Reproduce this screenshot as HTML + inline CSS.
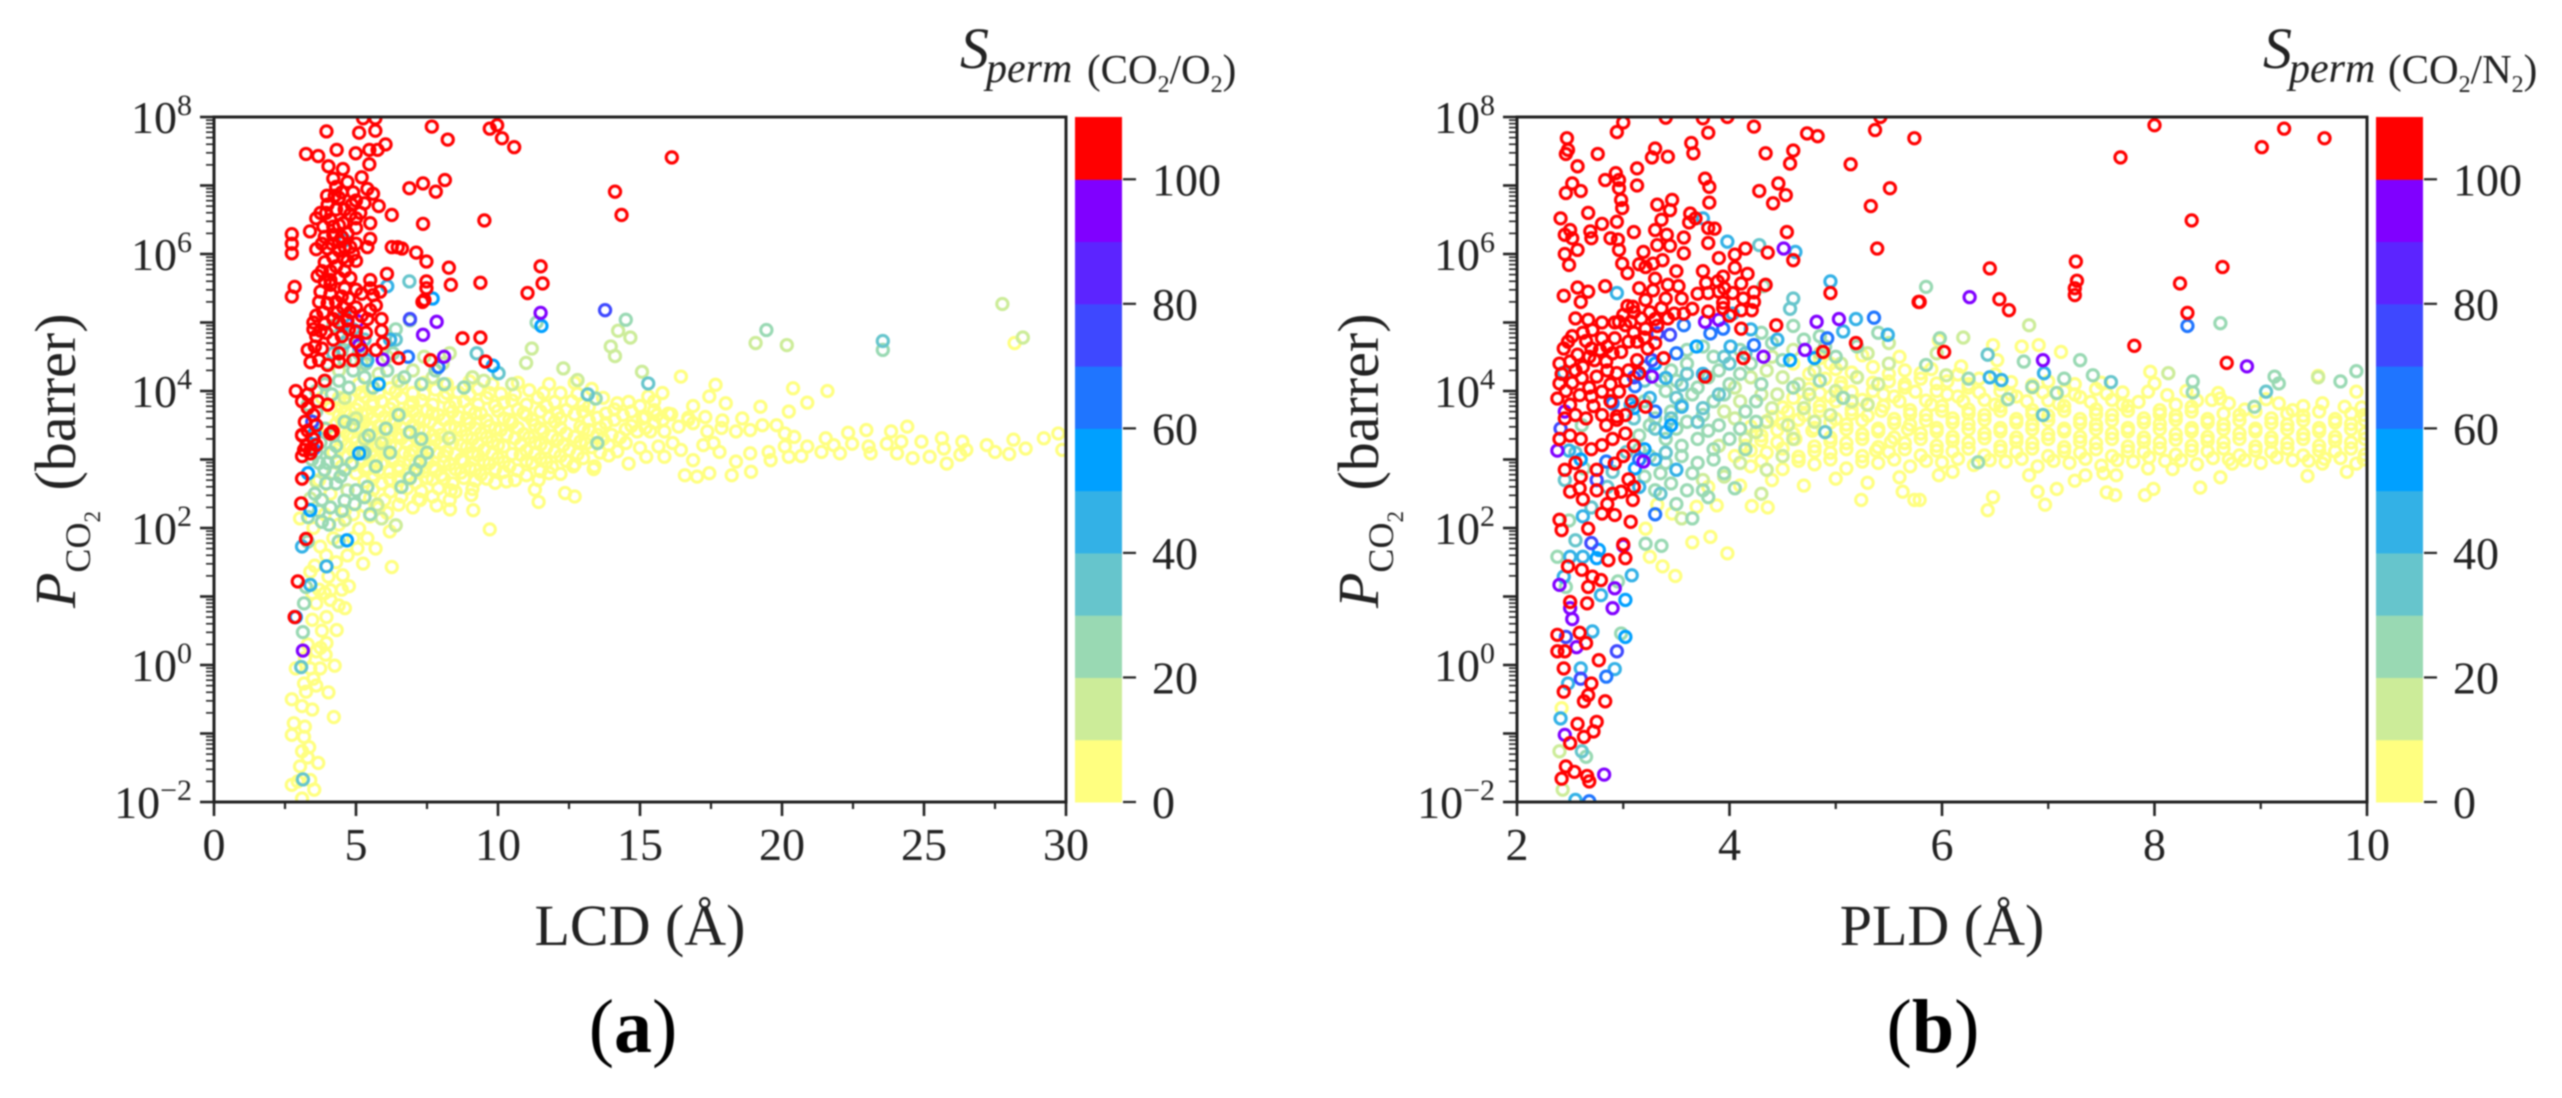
<!DOCTYPE html>
<html lang="en">
<head>
<meta charset="utf-8">
<title>CO2 permeability vs LCD and PLD</title>
<style>
html,body{margin:0;padding:0;background:#fff;}
svg{display:block;filter:blur(0.7px);}
text{font-family:"Liberation Serif",serif;fill:#222;}
</style>
</head>
<body>
<svg id="figure" xmlns="http://www.w3.org/2000/svg" width="2562" height="1098" viewBox="0 0 2562 1098">
<defs>
<clipPath id="clip-a"><rect x="214" y="117" width="852" height="685"/></clipPath>
<clipPath id="clip-b"><rect x="1517" y="117" width="850" height="685"/></clipPath>
</defs>
<rect x="0" y="0" width="2562" height="1098" fill="#fff"/>
<g id="panel-a"></g>
<g id="panel-b"></g>

<text transform="translate(75,608) rotate(-90)" font-size="58"><tspan font-style="italic">P</tspan><tspan font-size="36" dy="15">CO</tspan><tspan font-size="23" dy="10">2</tspan><tspan dy="-25" dx="6"> (barrer)</tspan></text>
<text transform="translate(1378,608) rotate(-90)" font-size="58"><tspan font-style="italic">P</tspan><tspan font-size="36" dy="15">CO</tspan><tspan font-size="23" dy="10">2</tspan><tspan dy="-25" dx="6"> (barrer)</tspan></text>
<text x="640" y="945" font-size="58" text-anchor="middle">LCD (Å)</text>
<text x="1942" y="945" font-size="58" text-anchor="middle">PLD (Å)</text>

<g>
<text x="960" y="68" font-size="58" font-style="italic">S</text>
<text x="986" y="82" font-size="42" font-style="italic">perm</text>
<text x="1087" y="83" font-size="41">(CO<tspan font-size="24" dy="9">2</tspan><tspan dy="-9">/O</tspan><tspan font-size="24" dy="9">2</tspan><tspan dy="-9">)</tspan></text>
</g>
<g>
<text x="2263" y="68" font-size="58" font-style="italic">S</text>
<text x="2289" y="82" font-size="42" font-style="italic">perm</text>
<text x="2388" y="83" font-size="41">(CO<tspan font-size="24" dy="9">2</tspan><tspan dy="-9">/N</tspan><tspan font-size="24" dy="9">2</tspan><tspan dy="-9">)</tspan></text>
</g>

<text x="633" y="1052" font-size="76" text-anchor="middle" style="fill:#000">(<tspan font-weight="bold">a</tspan>)</text>
<text x="1933" y="1052" font-size="76" text-anchor="middle" style="fill:#000">(<tspan font-weight="bold">b</tspan>)</text>
</svg>

<script>
/* ---- shared axis values ---- */
const logTickExponents=[8,7,6,5,4,3,2,1,0,-1,-2];
const logTickLabels=[8,6,4,2,0,-2];
const colorbarTicks=[0,20,40,60,80,100];
const colorbarEdges=[0,10,20,30,40,50,60,70,80,90,100,110];
const colormap=["#ffff80","#ccec99","#99d9b3","#66c5cc","#33b1e6","#00a0ff","#1f75ff","#3e48ff","#5c24ff","#8000ff","#ff0000"];
const lcdTicks=[0,5,10,15,20,25,30];
const lcdMinorTicks=[2.5,7.5,12.5,17.5,22.5,27.5];
const pldTicks=[2,4,6,8,10];
const pldMinorTicks=[3,5,7,9];

/* ---- panel (a): [LCD in angstrom, log10 of P_CO2] by selectivity band ---- */
const lcdYellow=[[15.36,3.41],[15.86,3.41],[16.36,3.48],[16.87,3.53],[17.37,3.41],[17.87,3.46],[18.38,3.41],[18.88,3.43],[19.31,3.5],[19.81,3.5],[20.1,3.38],[20.43,3.33],[21.54,3.31],[22.33,3.39],[22.97,3.43],[23.84,3.41],[24.41,3.48],[24.91,3.26],[25.63,3.31],[26.35,3.26],[27.21,3.21],[28.15,3.29],[29.22,3.31],[29.73,3.38],
[16.58,2.77],[17.01,2.75],[17.44,2.8],[18.23,2.77],[18.91,2.82],[16.87,2.99],[18.38,2.97],[19.6,2.99],[20.24,3.04],[20.68,3.05],[21.39,3.11],[22.04,3.09],[23.12,3.09],[24.05,3.09],[24.6,3.02],[25.2,3.04],[25.8,2.94],[26.28,3.07],[27.5,3.11],[28,3.08],[28.58,3.16],[29.87,3.14],
[15.65,3.19],[16.15,3.24],[16.44,3.14],[17.23,3.21],[17.59,3.24],[17.8,3.11],[18.88,3.09],[19.53,3.11],[20.1,3.19],[20.89,3.19],[21.82,3.21],[22.47,3.23],[23.05,3.19],[23.69,3.23],[24.2,3.26],[25.7,3.16],[26.49,3.14],[15.22,3.04],[15.86,3.04],
[16.44,4.21],[17.66,4.09],[20.39,4.04],[21.6,4],[20.89,3.83],[20.24,3.7],[19.24,3.77],[15.79,3.97],[15.29,3.92],[17.44,3.92],[18.02,3.82],[16.87,3.78],[28.19,4.7],
[16.1,3.66],[16.7,3.58],[17.3,3.62],[17.9,3.57],[18.6,3.6],[15.5,3.72],[15.1,3.6],
[2.74,-1.75],[3.1,-1.95],[3.53,-1.82],[3.39,-1.68],[3.67,-1.43],[3.03,-1.48],[3.1,-1.26],[2.74,-1.02],[2.81,-0.85],[3.17,-1.05],[3.46,-0.65],[2.74,-0.5],[3.24,-0.39],[4.03,-0.4],[4.22,-0.76],[2.88,-0.05],[3.39,-0.05],[3.74,-0.05],[4.25,-0.01],[3.93,0.15],[3.17,-0.27],[3.96,0.32],[4.32,0.51],[4.61,0.83],[3.46,0.66],[3.96,0.7],[4.39,0.87],[3.46,1.05],[4.1,1.09],[4.53,1.31],[4.03,1.29],[3.39,1.36],[5.25,1.48],[3.74,1.73],[5.69,1.7],[6.19,1.95],[5.11,1.99],[3.03,2.14],[6.26,1.43],[9.71,1.98],[7.26,2.41],[7.84,2.33],[8.31,2.27],[9.13,2.26],[11.43,2.38],[12.36,2.51],[12.7,2.46],[10.6,2.7],[8.34,2.55],[9.06,2.48],[11.43,2.7],[13.37,2.86],[12.65,2.9],
[3.1,-0.6],[3.3,-1.35],[3.6,0.2],[3.8,0.5],[4.1,0.95],[4.3,1.5],[4.7,1.6],[3.7,1.1],[4.9,1.85],[4.4,2.05],[3.3,0.3],[3.6,-0.3],[3.2,-0.9],[2.95,-1.7],[3.35,-1.2],[3.5,-0.2],[3.75,0.25],[3.2,0.1],[3.6,0.9],[3.9,1.05],[3.55,1.45],[3.95,1.6],[4.5,1.1],[4.75,1.15],[5.05,1.7],[5.4,1.85],[4.2,1.85],[4.6,2.25],[3.5,2],[3.9,2.2],
[5.5,4],[6.2,4.04],[7,3.97],[7.8,4.02],[8.6,3.98],[9.3,4.03],[10.1,3.96],[11.1,4.01],[12.2,3.97],[13.3,4.03],
[4.8,3.88],[5.3,3.92],[5.9,3.85],[6.6,3.9],[7.3,3.86],[8.1,3.91],[8.8,3.85],[9.6,3.9],[10.5,3.86],[11.4,3.9],[12.6,3.85],[13.7,3.9],[14.6,3.84],
[4.5,3.76],[5,3.73],[5.6,3.79],[6.2,3.74],[6.9,3.78],[7.5,3.72],[8.3,3.77],[9,3.73],[9.9,3.78],[10.7,3.73],[11.7,3.78],[12.4,3.72],[13.2,3.77],[14.1,3.73],[15,3.78],
[4.4,3.64],[4.9,3.61],[5.4,3.66],[6,3.62],[6.6,3.67],[7.2,3.6],[7.9,3.65],[8.6,3.62],[9.4,3.67],[10.2,3.6],[11,3.65],[11.8,3.61],[12.7,3.66],[13.5,3.61],[14.4,3.65],[15.2,3.62],[16,3.67],[16.7,3.61],
[4.3,3.52],[4.8,3.5],[5.3,3.55],[5.8,3.49],[6.4,3.54],[7,3.5],[7.6,3.55],[8.3,3.48],[9,3.53],[9.7,3.49],[10.5,3.54],[11.3,3.5],[12,3.55],[12.9,3.48],[13.8,3.53],[14.7,3.49],[15.5,3.54],
[4.2,3.4],[4.7,3.37],[5.2,3.42],[5.7,3.38],[6.2,3.43],[6.8,3.37],[7.4,3.41],[8,3.36],[8.7,3.42],[9.4,3.38],[10.1,3.43],[10.9,3.37],[11.6,3.41],[12.4,3.38],[13.2,3.43],[14,3.36],[14.9,3.41],
[4.5,3.28],[5,3.25],[5.5,3.3],[6,3.26],[6.6,3.31],[7.2,3.25],[7.8,3.29],[8.4,3.24],[9.1,3.3],[9.8,3.26],[10.6,3.31],[11.3,3.25],[12.1,3.29],[12.9,3.26],[13.7,3.3],[14.5,3.24],
[4.4,3.16],[4.9,3.13],[5.4,3.18],[5.9,3.14],[6.4,3.19],[7,3.13],[7.6,3.17],[8.2,3.12],[8.9,3.18],[9.5,3.14],[10.2,3.19],[11,3.13],[11.7,3.17],[12.5,3.14],[13.3,3.18],[14.2,3.12],[15,3.17],
[4.7,3.04],[5.2,3.01],[5.7,3.06],[6.3,3.02],[6.9,3.07],[7.5,3.01],[8.1,3.05],[8.7,3],[9.3,3.06],[10,3.02],[10.8,3.07],[11.5,3.01],[12.2,3.05],[13,3.02],[13.9,3.06],
[4.9,2.92],[5.4,2.89],[5.9,2.94],[6.5,2.9],[7.1,2.95],[7.7,2.89],[8.3,2.93],[9,2.88],[9.7,2.94],[10.4,2.9],[11.2,2.95],[11.9,2.89],[12.7,2.93],[13.4,2.9],[14.6,2.94],
[5,2.8],[5.6,2.77],[6.2,2.82],[6.8,2.78],[7.4,2.83],[8,2.77],[8.7,2.81],[9.4,2.78],[10.2,2.82],[11,2.77],[11.5,2.83],[12.2,2.79],
[5.3,2.68],[5.9,2.65],[6.5,2.7],[7.1,2.66],[7.7,2.71],[8.4,2.65],[9.2,2.69],[9.9,2.66],[11.3,2.56],
[5.6,2.56],[6.2,2.53],[6.8,2.58],[7.3,2.54],[7.9,2.58],[8.5,2.53],[9.1,2.57],
[5.5,2.44],[6,2.41],[6.6,2.46],[7.2,2.42],[7.7,2.46],[8.3,2.41],[5.3,2.32],[5.8,2.29],[6.5,2.34],[7,2.3],[4.9,2.2],[5.5,2.17],[6.1,2.22],
[3.7,2.7],[4.1,2.5],[4.5,2.9],[4.2,3.1],[4,3.45],[3.8,3.9],[4.4,3.9],[4.1,3.75],
[5.1,4.1],[5.8,4.12],[6.6,4.1],[7.4,4.12],[8.2,4.1],[9,4.14],[9.8,4.1],[10.7,4.12],[11.8,4.1],[12.7,4.12],[5.2,3.98],[5.8,3.97],[6.4,3.99],[7.4,3.96],[8.2,3.97],[9,3.95],[9.7,3.97],[10.6,3.95],[11.6,3.97],[12.8,3.96],
[4.6,3.83],[5.1,3.8],[5.6,3.84],[6.3,3.81],[7,3.83],[7.7,3.8],[8.5,3.83],[9.3,3.8],[10.2,3.83],[11,3.8],[12,3.84],[13,3.8],[14.2,3.82],[15.5,3.85],
[4.6,3.7],[5.2,3.67],[5.8,3.7],[6.4,3.68],[7,3.7],[7.7,3.67],[8.4,3.7],[9.2,3.68],[10,3.71],[10.9,3.68],[11.5,3.7],[12.1,3.67],[13,3.7],[13.8,3.67],[14.7,3.7],[15.6,3.65],
[4.5,3.58],[5.1,3.58],[5.6,3.6],[6.2,3.57],[6.8,3.6],[7.4,3.57],[8.1,3.58],[8.9,3.6],[9.6,3.57],[10.4,3.58],[11.2,3.58],[12.2,3.6],[13.2,3.57],[14.1,3.58],[15.8,3.58],
[4.5,3.45],[5,3.46],[5.5,3.47],[6,3.44],[6.6,3.46],[7.2,3.44],[7.9,3.46],[8.5,3.46],[9.2,3.45],[9.9,3.45],[10.7,3.46],[11.5,3.45],[12.2,3.46],[13,3.44],[13.6,3.46],[14.5,3.44],[15.2,3.46],
[4.9,3.32],[5.4,3.35],[5.9,3.32],[6.5,3.36],[7.1,3.32],[7.7,3.35],[8.3,3.32],[8.9,3.35],[9.6,3.32],[10.3,3.36],[11.1,3.32],[11.9,3.34],[12.7,3.33],[13.5,3.36],[14.3,3.32],
[4.7,3.21],[5.2,3.2],[5.7,3.22],[6.2,3.21],[6.8,3.23],[7.4,3.21],[8,3.23],[8.7,3.21],[9.3,3.22],[10,3.21],[10.8,3.22],[11.5,3.22],[12.3,3.21],[13.1,3.23],[13.9,3.21],
[5,3.08],[5.5,3.08],[6.1,3.08],[6.7,3.1],[7.3,3.08],[7.9,3.1],[8.5,3.08],[9.1,3.1],[9.8,3.08],[10.5,3.08],[11.3,3.08],[12,3.11],[12.8,3.08],[13.6,3.1],
[5.2,2.97],[5.7,2.98],[6.3,2.97],[6.9,2.98],[7.5,2.96],[8.1,2.97],[8.8,2.97],[9.5,2.98],[10.2,2.96],[11,2.98],[11.7,2.96],[12.4,2.98],
[5.3,2.86],[5.8,2.84],[6.5,2.84],[7.2,2.86],[7.8,2.84],[8.5,2.86],[9.2,2.85],[9.9,2.86],[10.7,2.84],[11.8,2.8],[5.6,2.72],[6.2,2.71],[6.9,2.72],[7.5,2.73],[8.1,2.72],[8.8,2.73],[9.6,2.72],[10.3,2.68]];

const lcdLime=[[15.07,4.28],[19.07,4.7],[20.17,4.67],[27.76,5.27],[28.48,4.78],[12.3,4.33],[12.8,4.16],[14.23,4.88],[14.66,4.78],[13.97,4.65],[14.12,4.51],[11.19,4.62],[10.99,4.41],[9.5,4.15],[10.5,4.1],[8.3,4.55],[8.05,4.4],[7,4.3],[5.8,4.25],[6.5,4.15],[9.1,4.2],[3.6,2.68],[3.39,2.43],[6.4,2.04],[5.75,2.34],[5.9,2.14],[4.61,2.12],[8.27,3.31],[5.9,3.24],[5.2,4.4],[4.4,4.3],[6.1,4.5],[7.4,4.5],[7.7,4.2],[4.6,3.9],[5,3.6],[5.3,3.3],[4.2,2.8],[4.7,2.55]];

const lcdGreen=[[19.45,4.89],[23.55,4.6],[11.36,5],[14.5,5.04],[13.44,3.89],[6.9,5.03],[6.4,4.9],[4.2,4.95],[4.5,4.6],[4,4.4],[3.9,4.1],[4.4,4.15],[4.9,4.3],[4.6,4.45],[5.3,4.2],[5.6,4.05],[6.1,4.3],[6.7,4.2],[7.3,4.1],[7.8,4.3],[8.1,4.1],[8.8,4.05],[3.6,3.7],[3.9,3.45],[4.3,3.2],[4,2.95],[4.6,2.85],[4.2,3.35],[4.9,3.5],[5.3,3.1],[5.7,2.9],[6.2,3.1],[6.6,2.6],[7.1,2.85],[7.5,3.1],[7.3,3.3],[6.9,3.4],[3.89,2.85],[3.8,2.41],[3.31,2.16],[3.8,2.09],[4.39,1.8],[4.32,2.97],[3.24,1.14],[3.13,0.48],[3.17,0.9],[5.25,3.09],[7.26,2.97],[6.9,2.73],[13.5,3.24],[4.1,2.3],[4.6,2.4],[5,2.55],[5.4,2.6],[4.3,2.65],[3.6,3.1],[3.5,3.35],[3.3,3.8],[4.7,4.75],[5.1,4.55],[3.3,1.8],[3.7,2.25],[4.05,2.05],[4.5,2.25],[4.95,2.35],[5.3,2.45],[3.55,2.5],[3.95,2.65],[4.45,2.75],[4.85,2.95],[5.45,3.35],[6.05,3.45],[6.5,3.65],[3.7,2.95],[4.1,3.1],[3.45,3],[3.75,3.25],[4.6,3.55],[3.6,4],[4.15,3.95],[4.75,4.05],[5.35,4.4],[6.3,4.55],[5.5,2.2]];

const lcdTeal=[[23.55,4.73],[6.88,5.6],[9.25,4.55],[10.02,4.26],[13.16,3.95],[15.29,4.11],[3.07,-0.03],[3.13,-1.67],[4.6,4.7],[5.3,4.75],[6.4,4.75],[4.2,4.55],[5.1,4.65],[4.9,4.9]];

const lcdCyan=[[6.1,5.53],[4.6,6.2],[4.6,5.1],[4.5,4.95],[3.1,1.73],[3.96,1.44],[3.39,1.17],[5.4,4.45],[6.2,4.75]];

const lcdSky=[[3.31,2.8],[2.88,0.7],[4.68,1.82],[5.11,3.09],[9.82,4.37],[7.7,5.35],[11.53,4.95],[3.53,3.38],[5.8,4.1],[3.39,2.26]];

const lcdBlue=[[6.83,4.5],[3.5,3.15],[7.9,4.35]];

const lcdIndigo=[[13.77,5.18],[6.9,5.05],[3.46,3.55]];

const lcdPurple=[[11.5,5.14],[7.84,5.01],[5.11,4.67],[5.94,4.46],[7.36,4.82],[3.13,0.21],[5.05,5.02],[8.1,4.5]];

const lcdRed=[[3.96,7.79],[7.67,7.86],[8.23,7.67],[9.71,7.83],[9.97,7.88],[10.14,7.69],[10.57,7.56],[5.11,7.77],[5.68,7.8],[6.04,7.6],[3.24,7.46],[3.67,7.43],[4.32,7.52],[4.99,7.47],[5.47,7.52],[5.76,7.52],[4.03,7.28],[4.54,7.24],[5.47,7.31],[5.25,7.98],[5.68,7.98],[6.88,6.96],[7.36,7.03],[7.81,6.91],[8.13,7.08],[14.12,6.91],[14.35,6.57],[6.26,6.57],[7.36,6.44],[9.52,6.49],[2.74,6.29],[2.74,6.01],[2.74,6.15],[3.38,6.33],[6.47,6.1],[6.62,6.08],[6.26,6.1],[7.12,6.02],[7.48,5.89],[8.27,5.8],[8.34,5.55],[9.38,5.58],[11.04,5.43],[11.5,5.82],[11.57,5.57],[2.74,5.38],[2.84,5.52],[6.09,5.71],[7.48,5.6],[7.48,5.5],[7.41,5.33],[7.34,5.3],[8.75,4.77],[9.38,4.78],[7.62,4.45],[9.56,4.43],[2.88,4],[16.12,7.41],
[4.2,7.1],[4.7,7.05],[5.2,7.12],[4.3,6.98],[4.9,6.9],[5.4,6.95],[5.6,6.88],[3.98,6.85],[4.4,6.82],[5,6.78],[5.3,6.74],[5.8,6.7],[4,6.72],[3.75,6.6],[4.3,6.65],[4.8,6.58],[5,6.52],[5.5,6.45],[3.6,6.52],[4.1,6.5],[4.4,6.42],[3.85,6.4],[5,6.38],[4.7,6.3],[5.5,6.22],[3.9,6.25],[4.2,6.28],[4.4,6.18],[5,6.15],[5.4,6.1],[3.6,6.07],[4,6.08],[4.4,6.05],[4.9,6],[5,5.9],[3.9,5.88],[4.3,5.82],[4.6,5.75],[3.65,5.68],[4.1,5.62],[5.5,5.62],[5.5,5.5],[4.1,5.55],[4.6,5.5],[5,5.48],[5.85,5.45],[3.75,5.45],[4.1,5.42],[4.5,5.38],[5.2,5.42],[5.6,5.4],[3.7,5.3],[4,5.28],[4.55,5.22],[5,5.22],[5.5,5.18],[3.6,5.1],[3.5,5],[3.9,4.98],[4.4,5],[4.7,5.03],[5.4,5.05],[5.9,5.05],[3.5,4.9],[3.95,4.85],[4.5,4.8],[5,4.87],[5.9,4.88],[3.6,4.8],[5,4.72],[5.95,4.7],[3.3,4.6],[3.8,4.62],[4.4,4.55],[5.7,4.6],[3.4,4.42],[4,4.38],[4.4,4.43],[4.9,4.45],[6.5,4.48],[3.9,4.15],[3.4,4.1],[3.1,3.85],[4,3.8],[3.3,3.75],[3.5,3.65],[3.2,3.55],[3.3,3.42],[3.1,3.35],[4.1,3.38],[3.5,3.3],[3.4,3.15],[3.1,3.05],[4.5,6.9],[4.6,6.65],[4.2,6.4],[4.6,6.1],[4.2,5.95],[4.7,5.9],[3.8,5.75],[4.3,5.3],[4.8,5.15],[4.2,5.05],
[2.84,0.7],[2.95,1.22],[3.24,1.84],[3.07,2.36],[3.1,2.72],[3.39,3.09],[3.17,3.14],[3.6,3.21],[3.1,3.36],[4.18,3.41],
[4.55,6.45],[4.85,6.72],[3.95,6.6],[4.25,6.85],[5.15,6.6],[4.5,6.25],[4.8,6.1],[4.15,6.15],[3.8,6.15],[4.55,5.95],[4.1,5.75],[4.4,5.65],[4.8,5.65],[3.9,5.6],[4.75,5.35],[4.35,5.15],[3.85,5.15],[5.2,5.1],[5.7,5.25],[3.75,4.88],[4.2,4.75],[4.75,4.9],[5.35,4.85],[3.55,4.65],[3.7,4.45],[5.2,4.6],[3.3,3.95],[3.65,3.85],[3.25,3.2],[3.6,3.5]];

const lcdSeries=[[5,lcdYellow],[15,lcdLime],[25,lcdGreen],[35,lcdTeal],[45,lcdCyan],[55,lcdSky],[65,lcdBlue],[75,lcdIndigo],[95,lcdPurple],[105,lcdRed]];

/* ---- panel (b): [PLD in angstrom, log10 of P_CO2] by selectivity band ---- */
const pldYellow=[[5.97,4.74],[6.48,4.67],[6.75,4.65],[6.91,4.67],[7.12,4.57],[6.52,4.45],[6.18,4.36],[7.96,4.28],[9.54,4.22],[8,4.11],[7.94,3.99],[8.12,3.94],[8.62,3.89],[8.54,3.87],[9.17,3.82],[9.58,3.82],[9.9,3.99],[9.79,3.77],
[6.43,2.26],[6.48,2.45],[6.97,2.34],[6.9,2.53],[7.08,2.57],[7.63,2.48],[7.55,2.52],[7.91,2.48],[7.99,2.57],[8.43,2.59],[8.62,2.74],[9.44,2.76],[9.81,2.82],[5.97,2.77],[6.82,2.77],[7.25,2.69],[7.35,2.77],[7.52,2.8],[7.64,2.77],[7.94,2.87],[8.17,2.86],[8.73,2.94],[9.58,2.94],[5.79,2.41],
[3.21,1.99],[3.25,1.58],[3.37,1.44],[3.49,1.3],[3.65,1.79],[3.82,1.87],[3.98,1.63],[4.21,2.32],[4.36,2.3],[5.24,2.41],[5.63,2.53],[5.74,2.41],[3.88,2.33],[3.69,2.31],[3.46,2.21],[3.32,2.34],[3.8,2.6],[2.42,-0.63],
[4.1,2.62],[4.4,2.7],[4.7,2.62],[5,2.72],[5.3,2.66],[5.6,2.74],[6.1,2.82],
[4.2,2.9],[4.5,2.86],[4.8,2.93],[5.1,2.87],[5.4,2.95],[5.7,2.9],[6,2.96],[6.3,2.92],[6.6,2.97],[6.9,2.9],[7.2,2.95],[7.5,2.91],[7.8,2.97],[8.1,2.98],[8.4,2.93],[8.7,3],[9,2.95],[9.3,2.99],[9.6,3.01],[9.9,2.94],
[4.05,3.05],[4.35,3.1],[4.65,3.04],[4.95,3.1],[5.25,3.05],[5.5,3.11],[5.8,3.06],[6.1,3.12],[6.4,3.06],[6.7,3.11],[7,3.05],[7.3,3.1],[7.6,3.05],[7.9,3.11],[8.2,3.07],[8.5,3.12],[8.8,3.06],[9.1,3.11],[9.4,3.06],[9.7,3.12],[9.98,3.07],
[4.15,3.2],[4.45,3.25],[4.8,3.19],[5.1,3.24],[5.4,3.18],[5.65,3.24],[5.95,3.2],[6.25,3.25],[6.55,3.19],[6.85,3.24],[7.15,3.18],[7.45,3.24],[7.75,3.19],[8.05,3.25],[8.35,3.2],[8.65,3.25],[8.95,3.19],[9.25,3.24],[9.55,3.2],[9.85,3.25],
[4.3,3.35],[4.6,3.38],[4.95,3.32],[5.25,3.37],[5.55,3.32],[5.8,3.38],[6.1,3.33],[6.4,3.38],[6.7,3.32],[7,3.37],[7.3,3.33],[7.6,3.38],[7.9,3.32],[8.2,3.37],[8.5,3.33],[8.8,3.38],[9.1,3.32],[9.4,3.37],[9.7,3.33],[9.98,3.38],
[4.2,3.48],[4.5,3.52],[4.8,3.46],[5.1,3.51],[5.4,3.45],[5.7,3.51],[5.95,3.46],[6.25,3.52],[6.55,3.46],[6.85,3.51],[7.15,3.45],[7.45,3.51],[7.75,3.46],[8.05,3.52],[8.35,3.46],[8.65,3.51],[8.95,3.45],[9.25,3.51],[9.55,3.46],[9.85,3.52],
[4.4,3.62],[4.7,3.65],[5,3.59],[5.3,3.64],[5.55,3.59],[5.85,3.65],[6.1,3.6],[6.4,3.65],[6.7,3.59],[7,3.64],[7.3,3.59],[7.6,3.65],[7.9,3.6],[8.2,3.64],[8.5,3.59],[8.8,3.65],[9.1,3.6],[9.4,3.64],[9.7,3.59],[9.97,3.65],
[4.5,3.76],[4.85,3.78],[5.15,3.73],[5.45,3.78],[5.7,3.72],[6,3.78],[6.25,3.73],[6.55,3.78],[6.85,3.72],[7.15,3.78],[7.45,3.73],[7.75,3.78],[8.05,3.72],[8.35,3.77],[8.85,3.73],[9.3,3.72],[9.95,3.76],
[4.6,3.9],[4.95,3.92],[5.25,3.87],[5.55,3.92],[5.85,3.86],[6.15,3.92],[6.4,3.87],[6.7,3.92],[7,3.86],[7.3,3.91],[7.6,3.87],[7.85,3.84],[8.4,3.86],[9.05,3.88],
[4.75,4.03],[5.05,4.06],[5.35,4],[5.65,4.05],[5.95,4],[6.25,4.05],[6.55,4],[6.85,4.05],[7.15,4],[7.45,4.03],[7.7,3.98],[8.3,4],
[4.9,4.18],[5.2,4.2],[5.5,4.14],[5.8,4.18],[6.05,4.14],[6.35,4.18],[6.65,4.13],[7,4.14],[7.25,4.1],
[5,4.32],[5.35,4.35],[5.65,4.3],[5.9,4.32],[4.6,4.4],[4.85,4.48],[5.25,4.52],[5.6,4.5],
[4.3,2.98],[4.65,2.98],[4.95,3],[5.25,2.97],[5.55,3],[5.85,2.98],[6.15,3.01],[6.45,2.99],[6.75,3.01],[7.05,2.98],[7.35,3.01],[7.65,2.99],[7.95,3.03],[8.25,2.99],[8.55,3.02],[8.85,2.99],[9.15,3.03],[9.45,2.98],[9.75,3.02],[9.97,3],
[4.2,3.13],[4.5,3.16],[4.8,3.12],[5.1,3.15],[5.38,3.13],[5.65,3.15],[5.95,3.13],[6.25,3.16],[6.55,3.13],[6.85,3.16],[7.15,3.12],[7.45,3.15],[7.75,3.12],[8.05,3.16],[8.35,3.13],[8.65,3.16],[8.95,3.13],[9.25,3.16],[9.55,3.13],[9.85,3.16],
[4.3,3.28],[4.62,3.3],[4.95,3.26],[5.25,3.3],[5.52,3.26],[5.8,3.3],[6.1,3.27],[6.4,3.31],[6.7,3.26],[7,3.3],[7.3,3.26],[7.6,3.3],[7.9,3.26],[8.2,3.29],[8.5,3.27],[8.8,3.3],[9.1,3.26],[9.4,3.3],[9.7,3.27],[9.98,3.3],
[4.45,3.43],[4.78,3.42],[5.1,3.44],[5.4,3.41],[5.68,3.44],[5.95,3.41],[6.25,3.44],[6.55,3.41],[6.85,3.44],[7.15,3.41],[7.45,3.44],[7.75,3.41],[8.05,3.44],[8.35,3.41],[8.65,3.44],[8.95,3.41],[9.25,3.44],[9.55,3.41],[9.85,3.44],
[4.35,3.56],[4.65,3.58],[4.95,3.54],[5.25,3.57],[5.55,3.53],[5.85,3.57],[6.1,3.54],[6.4,3.58],[6.7,3.54],[7,3.57],[7.3,3.53],[7.6,3.57],[7.9,3.54],[8.2,3.58],[8.5,3.54],[8.8,3.57],[9.1,3.53],[9.4,3.57],[9.7,3.54],[9.98,3.57],
[4.55,3.7],[4.85,3.71],[5.15,3.67],[5.43,3.71],[5.7,3.66],[6,3.71],[6.25,3.67],[6.55,3.71],[6.85,3.66],[7.15,3.71],[7.45,3.66],[7.75,3.71],[8.05,3.66],[8.35,3.7],[8.65,3.67],[8.95,3.7],[9.25,3.67],[9.55,3.7],[9.85,3.67],
[4.7,3.84],[5,3.85],[5.3,3.81],[5.6,3.85],[5.9,3.8],[6.2,3.85],[6.5,3.8],[6.8,3.85],[7.1,3.81],[7.4,3.84],[7.7,3.8],[8.2,3.8],[8.7,3.82],[9.4,3.78],
[4.85,3.97],[5.15,3.99],[5.45,3.95],[5.75,3.99],[6.05,3.95],[6.35,3.98],[6.65,3.95],[6.95,3.98],[7.25,3.95],[7.55,3.96],[8.6,3.97],
[5.05,4.12],[5.35,4.12],[5.65,4.1],[5.95,4.11],[6.25,4.1],[6.55,4.1],[6.85,4.09],[7.5,4.12],[5.15,4.27],[5.5,4.25],[5.8,4.26],[6.15,4.24],[6.5,4.24],[4.75,4.25],[4.95,4.4]];

const pldLime=[[4.5,4.2],[4.3,3.95],[4.6,4.6],[4.8,4.3],[5.2,4.2],[5.5,4.4],[4.4,4.5],[4.7,3.75],[4.4,3.75],[4.2,4.2],[5.05,4.4],[5,4],[5.3,3.8],[4.05,3.6],[4.25,3.4],[3.9,3.2],[4.1,3.85],[4.6,3.3],[4.8,3.55],[6.82,4.96],[3.55,2.14],[9.54,4.2],[2.43,-1.82],[2.4,-1.26],[5.5,4.7],[5.95,4.55],[6.2,4.78],[6.04,4.23],[8.13,4.26],
[4.15,3.3],[4.35,3.55],[4.55,3.5],[4.75,3.95],[4.45,3.95],[4.95,3.65],[4.65,4.1],[4.35,4.3],[4.05,4.05],[3.95,3.7],[4.85,4.55],[5.15,3.85],[5.3,4.55],[4.1,2.95],[4.35,2.85],[3.95,2.75],[4.3,2.5],[3.75,2.7],[5.4,4.1],[4.5,3.05]];

const pldGreen=[[5.85,5.52],[8.62,4.99],[5.98,4.77],[6.77,4.43],[7.3,4.45],[7.42,4.23],[8.36,4.14],[8.36,3.98],[9.13,4.21],[9.17,4.11],[9.9,4.29],[9.75,4.14],[8.94,3.77],[5.85,4.38],[6.25,4.18],[7.15,4.18],[7.08,3.97],[6.62,3.88],[6.85,4.06],[6.34,2.96],[4.32,5.53],[3.65,2.14],[3.36,1.74],[3.21,1.77],[4.05,2.58],[2.98,0.46],[2.95,1.22],[2.65,-1.34],[2.63,2.87],[2.61,3.5],[2.49,2.11],[2.46,1.14],[2.38,1.58],
[3.6,4.4],[3.9,4.3],[4.2,4.4],[4.5,4.45],[3.4,4],[3.7,4.05],[4,4.1],[4.3,4.1],[3.55,3.8],[3.85,3.85],[4.15,3.7],[3.3,3.6],[3.6,3.55],[3.9,3.5],[4.25,3.55],[3.4,3.3],[3.7,3.3],[4,3.3],[3.25,3.05],[3.55,3.05],[3.85,3],[3.35,2.8],[3.65,2.8],[3.95,2.8],[3.3,2.55],[3.6,2.55],[3.8,2.45],[4.6,4.05],[4.85,4.15],[3.15,3.35],[3.2,2.75],[4.9,4.65],[4.3,4.85],[4.6,4.95],[5.2,4.65],[4.85,4.8],[5.07,3.9],[3.45,4.3],[3.75,4.65],
[3.5,4.15],[3.8,4.2],[4.1,4.25],[4.4,4.7],[4.7,4.75],[3.65,3.95],[3.95,3.95],[4.25,3.85],[3.45,3.7],[3.75,3.65],[3.5,3.45],[3.8,3.42],[4.1,3.45],[3.55,3.2],[3.85,3.15],[4.15,3.15],[3.4,2.95],[3.7,2.95],[3.45,2.65],[3.75,2.55],[3.5,2.35],[3.6,4.6],[3.85,4.5],[4.1,4.6],[5,4.5],[5.4,4.85],[3.35,4.15],[3.2,3.85],[3.25,3.5],[3.15,3.15]];

const pldTeal=[[6.43,4.53],[7.59,4.13],[9.05,3.99],[4.28,6.13],[4.57,5.2],[3.55,4.09],[2.61,-1.26],[2.9,2.82],[3.03,3.11],[2.55,1.82],[3.3,3.45],[3.5,3.9],[3.7,3.55],[3.1,3.6],[3.35,2.5],[3.4,3.1],[3.75,3.75],[3.95,4.5],[4.15,4.55],[3.2,4.15],[4.9,3.4],[6.95,3.65],[4.6,5.35],[2.55,3.1],[2.7,2.3],[2.45,2.7],[2.85,2.6],[3.45,3.6],[3.6,4.25],[3.9,3.95],[4,4.4]];

const pldCyan=[[2.94,5.43],[3.98,6.18],[4.62,6.03],[4.95,5.6],[3.75,6.52],[5.19,5.05],[5.07,4.87],[5.49,4.82],[4.03,5.13],[4.01,4.65],[3.4,4.19],[2.44,4.27],[3.07,3.8],[3.55,3.77],[6.45,4.2],[6.56,4.16],[6.96,4.26],[2.62,2.17],[2.62,1.58],[2.5,1.58],[2.44,1.29],[3.08,1.31],[2.79,1.02],[2.92,-0.06],[2.6,-0.05],[2.48,-0.27],[2.41,-0.78],[2.55,-1.97],[2.71,0.49],[2.49,3.13],[3.3,3],[3.5,2.85],[3.75,4.25],[3.25,3.9],[3.4,3.4],[3.15,2.6],[4.45,4.75],[4.2,4.9]];

const pldSky=[[3.11,2.87],[3.02,0.41],[3.02,0.95],[2.75,1.56],[2.77,1.68],[4.8,4.48],[4.57,4.45],[3.69,4.65],[3.45,3.5],[3.2,3.15],[3.1,3.75],[3.3,4.4],[2.6,3]];

const pldBlue=[[8.31,4.95],[3.57,4.96],[3.94,4.91],[3.82,4.84],[5.36,5.07],[4.92,4.77],[4.23,4.67],[3.11,4.07],[2.9,3.82],[2.84,-0.17],[2.68,-1.99],[2.84,2.97],[3.3,2.2],[3.3,3.7],[3.5,4.55],[3.15,3],[3.2,4.35]];

const pldIndigo=[[3.44,4.82],[3.32,4.84],[2.94,0.2],[2.6,-0.2],[2.46,0.41],[2.7,1.78],[2.41,3.45],[3.27,4.45],[2.75,2.7],[3.1,4.2]];

const pldPurple=[[4.51,6.08],[3.77,5.01],[3.9,5.04],[4.82,5.01],[5.03,5.05],[4.32,4.5],[4.71,4.6],[3.27,4.21],[2.45,3.7],[6.26,5.37],[6.95,4.45],[8.87,4.36],[2.82,-1.6],[2.45,-1.02],[2.56,0.26],[2.5,0.83],[2.52,0.67],[2.9,0.83],[2.92,1.12],[2.4,1.17],[3,1.74],[3.19,2.97],[2.38,3.13]];

const pldRed=[[2.47,7.69],[2.48,7.52],[2.46,7.46],[2.57,7.28],[2.76,7.46],[3,7.92],[2.94,7.78],[3.4,7.99],[3.75,7.98],[3.8,7.77],[3.98,8],[4.23,7.86],[4.73,7.76],[4.83,7.72],[5.37,7.81],[5.42,8],[5.74,7.69],[3.64,7.62],[3.66,7.47],[3.3,7.54],[3.27,7.41],[3.42,7.42],[4.34,7.47],[4.6,7.51],[4.57,7.32],[5.14,7.31],[3.13,7.25],[2.93,7.18],[2.83,7.08],[2.96,7.08],[3.13,7],[2.52,7.03],[2.46,6.89],[2.6,6.92],[2.96,6.96],[2.98,6.79],[2.99,6.67],[3.77,7.1],[3.81,6.98],[3.81,6.75],[4.28,6.92],[4.46,7.03],[4.53,6.86],[4.41,6.74],[5.51,6.96],[5.33,6.7],[3.32,6.72],[3.46,6.79],[3.44,6.64],[2.67,6.6],[2.41,6.52],[4.54,6.32],[5.39,6.08],
[2.8,6.44],[2.94,6.47],[2.69,6.33],[2.7,6.23],[2.5,6.35],[2.45,6.28],[2.52,6.23],[2.88,6.23],[2.95,6.21],[3.1,6.32],[3.3,6.35],[3.36,6.5],[3.63,6.59],[3.68,6.52],[3.62,6.46],[3.41,6.28],[3.57,6.24],[3.44,6.12],[3.32,6.13],[3.8,6.38],[3.8,6.16],[3.86,6.37],[2.57,6.06],[2.45,6],[2.49,5.84],[2.96,6.06],[2.99,5.86],[3.04,5.72],[3.19,6.03],[3.21,5.81],[3.28,5.86],[3.37,5.91],[3.57,6.01],[3.9,5.94],[4.05,5.99],[4.15,6.08],[4.36,6.02],[4.6,5.91],[4.05,5.8],[4.17,5.71],[3.3,5.64],[3.15,5.5],[3.42,5.55],[3.52,5.53],[3.78,5.58],[3.89,5.6],[3.94,5.67],[4.11,5.57],[4.34,5.55],[3.8,5.43],[3.9,5.45],[4.03,5.43],[4.23,5.44],[3.94,5.29],[4.13,5.35],[4.23,5.3],[3.28,5.47],[3.21,5.33],[2.57,5.51],[2.67,5.45],[2.44,5.39],[2.83,5.53],[4.95,5.43],[5.78,5.3],
[2.55,5.06],[2.67,5.04],[3.04,5.24],[3.09,5.23],[3,5.11],[2.96,5.01],[3.07,5.01],[3.17,5.06],[3.36,5.21],[3.48,5.13],[3.57,5.13],[3.42,5.06],[3.8,5.16],[3.94,5.21],[4.11,5.18],[4.21,5.18],[2.52,4.8],[2.71,4.89],[2.65,4.73],[2.92,5],[3.02,4.96],[3.21,4.91],[3.32,4.95],[2.92,4.77],[3.13,4.72],[2.8,4.77],[2.44,4.62],[2.57,4.53],[2.73,4.45],[2.84,4.43],[2.98,4.57],[3.13,4.45],[3.23,4.62],[2.4,4.4],[2.5,4.43],[2.61,4.19],[2.94,4.26],[2.75,4.21],[2.4,4.11],[2.46,4],[2.59,3.94],[2.8,3.99],[2.96,3.99],[3.15,4.26],[2.38,3.89],[2.55,3.65],[2.94,3.63],[3.21,3.77],[3.38,4.48],[4.13,4.48],[4.88,4.57],[4.44,4.96],[4.11,4.91],[3.77,4.21],[5.19,4.7],[2.7,4.62],[2.85,4.65],[3.1,4.85],[2.62,4.35],[3.05,4.3],[2.68,4.05],[2.5,3.8],[2.72,3.78],[3.08,3.85],[3.3,4.7],[2.88,4.1],
[8,7.88],[7.68,7.41],[9.01,7.56],[9.22,7.83],[9.6,7.69],[8.35,6.49],[6.45,5.79],[7.26,5.89],[8.64,5.81],[7.27,5.61],[7.25,5.5],[7.25,5.4],[8.24,5.57],[6.54,5.34],[6.63,5.18],[5.79,5.3],[8.31,5.14],[7.81,4.66],[8.68,4.41],[6.02,4.57],
[2.42,-1.66],[2.46,-1.48],[2.54,-1.56],[2.68,-1.7],[2.66,-1.62],[2.5,-1.14],[2.63,-1.05],[2.72,-0.97],[2.75,-0.83],[2.57,-0.86],[2.63,-0.53],[2.83,-0.53],[2.67,-0.44],[2.44,-0.39],[2.7,-0.27],[2.44,-0.05],[2.77,0.07],[2.38,0.2],[2.45,0.2],[2.65,0.32],[2.38,0.44],[2.59,0.47],[2.5,0.92],[2.66,0.9],[2.67,1.14],[2.79,1.24],[2.48,1.44],[2.61,1.39],[2.71,1.29],[2.86,1.53],[3.02,1.56],[3,1.76],[2.42,1.97],[2.4,2.12],[2.67,1.99],[3.07,2.09],[2.92,2.19],[2.8,2.21],[3.09,2.41],[2.62,2.42],[2.98,2.53],[2.5,2.53],[3.05,2.71],[2.59,2.58],[2.92,2.94],[2.8,3.21],[3.02,3.38],[2.84,3.5],[2.94,3.58],[2.75,2.85],[2.55,2.95],[2.7,3.15],[2.5,3.35],[3,3.05],[2.6,3.3],[3.1,2.6],[2.75,2.55],[2.85,2.35],
[2.62,4.85],[2.78,4.6],[2.9,4.55],[3.05,4.72],[3.2,4.78],[2.48,4.72],[2.55,4.3],[2.85,4.3],[3.02,4.15],[2.68,4.5],[2.42,4.25],[2.52,4.12],[2.7,3.92],[2.88,3.85],[2.45,3.6],[2.65,3.6],[2.8,3.65],[3.02,3.65],[2.4,3.3],[3.1,3.2],[2.9,3.3],[2.6,2.75],[2.9,2.5],[2.45,2.85],[3.3,5.05],[3.25,5.15],[3.55,5.35],[3.65,5.2],[4,5.1],[3.7,5.42],[3.1,5.15],[2.8,5],[2.6,5.3],[3.4,5.35],[3.15,5.85],[3.5,5.75],[3.75,5.75],[3.95,5.5]];

const pldSeries=[[5,pldYellow],[15,pldLime],[25,pldGreen],[35,pldTeal],[45,pldCyan],[55,pldSky],[65,pldBlue],[75,pldIndigo],[95,pldPurple],[105,pldRed]];

/* ---- drawing ---- */
const NS="http://www.w3.org/2000/svg";
function node(tag,attrs,parent){
  const el=document.createElementNS(NS,tag);
  for(const k in attrs){el.setAttribute(k,attrs[k]);}
  parent.appendChild(el);
  return el;
}
function tickLine(parent,x1,y1,x2,y2,w){
  return node("line",{x1:x1,y1:y1,x2:x2,y2:y2,stroke:"#222","stroke-width":w},parent);
}
function drawPanel(root,clipId,left,right,xMin,xMax,xMajor,xMinor,series,barLeft,barRight,barLabelX){
  const top=117,bottom=802;
  const xs=v=>left+(v-xMin)/(xMax-xMin)*(right-left);
  const ys=v=>bottom-(v+2)/10*(bottom-top);
  const cs=v=>bottom-v/110*(bottom-top);

  const marks=node("g",{"clip-path":"url(#"+clipId+")"},root);
  
  
  series.forEach(function(s){
    const colour=colormap[Math.floor(s[0]/10)];
    s[1].forEach(function(p){
      const c=node("circle",{cx:xs(p[0]),cy:ys(p[1]),r:5.6,fill:"none",stroke:colour,"stroke-width":3.1},marks);
      
      
    });
  });

  const frame=node("rect",{x:left,y:top,width:right-left,height:bottom-top,fill:"none",stroke:"#222","stroke-width":3},root);
  
  

  const xAxis=node("g",{},root);
  
  
  xMajor.forEach(function(v){
    const t=tickLine(xAxis,xs(v),bottom,xs(v),bottom+14,2.6);
    
    
    const lab=node("text",{x:xs(v),y:860,"font-size":46,"text-anchor":"middle"},xAxis);
    
    
    lab.textContent=String(v);
  });
  xMinor.forEach(function(v){
    const t=tickLine(xAxis,xs(v),bottom,xs(v),bottom+7,2.2);
    
    
  });

  const yAxis=node("g",{},root);
  
  
  logTickExponents.forEach(function(e){
    const t=tickLine(yAxis,left-14,ys(e),left,ys(e),2.6);
    
    
    if(e>-2){
      [2,3,4,5,6,7,8,9].forEach(function(m){
        const mt=tickLine(yAxis,left-8,ys(e-1+Math.log10(m)),left,ys(e-1+Math.log10(m)),1.6);
        
        
      });
    }
  });
  logTickLabels.forEach(function(e){
    const lab=node("text",{x:left-22,y:ys(e)+16,"font-size":46,"text-anchor":"end"},yAxis);
    
    
    const base=node("tspan",{},lab);
    base.textContent="10";
    const sup=node("tspan",{"font-size":30,dy:-18},lab);
    sup.textContent=String(e).replace("-","\u2212");
  });

  const bar=node("g",{},root);
  
  
  colormap.forEach(function(col,i){
    const r=node("rect",{x:barLeft,y:cs(colorbarEdges[i+1]),width:barRight-barLeft,height:cs(colorbarEdges[i])-cs(colorbarEdges[i+1])+0.5,fill:col},bar);
    
    
  });
  colorbarTicks.forEach(function(v){
    const t=tickLine(bar,barRight+1,cs(v),barRight+14,cs(v),2.2);
    
    
    const lab=node("text",{x:barLabelX,y:cs(v)+16,"font-size":46},bar);
    
    
    lab.textContent=String(v);
  });
}
drawPanel(document.getElementById("panel-a"),"clip-a",214,1066,0,30,lcdTicks,lcdMinorTicks,lcdSeries,1075,1122,1152);
drawPanel(document.getElementById("panel-b"),"clip-b",1517,2367,2,10,pldTicks,pldMinorTicks,pldSeries,2376,2423,2453);
</script>
</body>
</html>
